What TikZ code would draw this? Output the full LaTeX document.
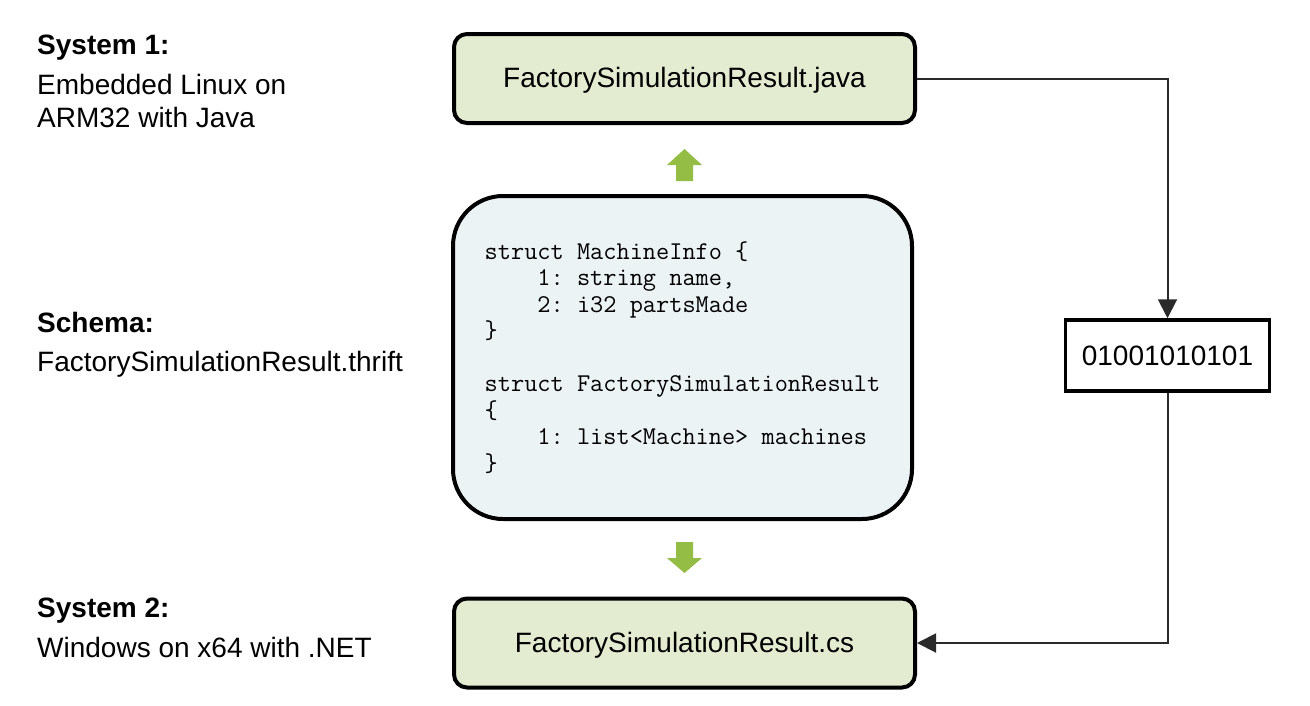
\documentclass[tikz,border=0pt]{standalone}
\usepackage{fontspec}
\setmainfont{Liberation Sans}
\usetikzlibrary{arrows.meta}
\frenchspacing
\definecolor{boxgreen}{HTML}{E3ECD0}
\definecolor{boxblue}{HTML}{EBF3F5}
\definecolor{arrowgreen}{HTML}{94BD45}
\definecolor{linegray}{HTML}{2A2A2A}
\tikzset{
  greenbox/.style={draw=black, line width=4pt, fill=boxgreen, rounded corners=13pt,
    minimum width=461pt, minimum height=89pt, inner sep=0pt, text depth=2pt,
    font=\fontsize{28}{32}\selectfont},
  schemabox/.style={draw=black, line width=4pt, fill=boxblue, rounded corners=50pt,
    minimum width=459pt, minimum height=323pt, inner sep=0pt, align=left,
    font=\ttfamily\fontsize{25.6}{26.5}\selectfont},
  binbox/.style={draw=black, line width=3.5pt, fill=white, minimum width=204pt,
    minimum height=71pt, inner sep=0pt, font=\fontsize{28}{32}\selectfont},
  conn/.style={draw=linegray, line width=2pt, -{Triangle[length=19pt,width=19pt]}},
  lblhead/.style={anchor=base west, inner sep=0pt, font=\bfseries\fontsize{28}{32}\selectfont},
  lbltext/.style={anchor=base west, inner sep=0pt, font=\fontsize{28}{32}\selectfont},
  garrow/.style={fill=arrowgreen, draw=none}
}
\begin{document}
\begin{tikzpicture}[x=1pt,y=-1pt]
\useasboundingbox (0,0) rectangle (1310,705);

% left labels
\node[lblhead] (s1h) at (37,54) {System 1:};
\node[lbltext] (s1a) at (37,94) {Embedded Linux on};
\node[lbltext] (s1b) at (37,127) {ARM32 with Java};
\node[lblhead] (sch) at (37,332) {Schema:};
\node[lbltext] (scht) at (37,371) {FactorySimulationResult.thrift};
\node[lblhead] (s2h) at (37,617) {System 2:};
\node[lbltext] (s2a) at (37,657) {Windows on x64 with .NET};

% boxes
\node[greenbox] (java) at (684.5,78.5) {FactorySimulationResult.java};
\node[schemabox] (schema) at (682.5,357.5) {%
struct MachineInfo \{\\
\ \ \ \ 1: string name,\\
\ \ \ \ 2: i32 partsMade\\
\}\\[26.5pt]
struct FactorySimulationResult\\
\{\\
\ \ \ \ 1: list<Machine> machines\\
\}};
\node[greenbox] (cs) at (684.5,643) {FactorySimulationResult.cs};
\node[binbox] (bin) at (1167.5,355.5) {01001010101};

% connectors
\draw[conn] (java.east) -| (bin.north);
\draw[conn] (bin.south) |- (cs.east);

% green block arrows
\coordinate (upbase) at (684.5,181);
\coordinate (downbase) at (684.5,542);
\fill[garrow] (upbase) ++(-8.5,0) -- ++(0,-16) -- ++(-9,0) -- ++(17.5,-16) -- ++(17.5,16) -- ++(-9,0) -- ++(0,16) -- cycle;
\fill[garrow] (downbase) ++(-8.5,0) -- ++(0,16) -- ++(-9,0) -- ++(17.5,15) -- ++(17.5,-15) -- ++(-9,0) -- ++(0,-16) -- cycle;
\end{tikzpicture}
\end{document}
